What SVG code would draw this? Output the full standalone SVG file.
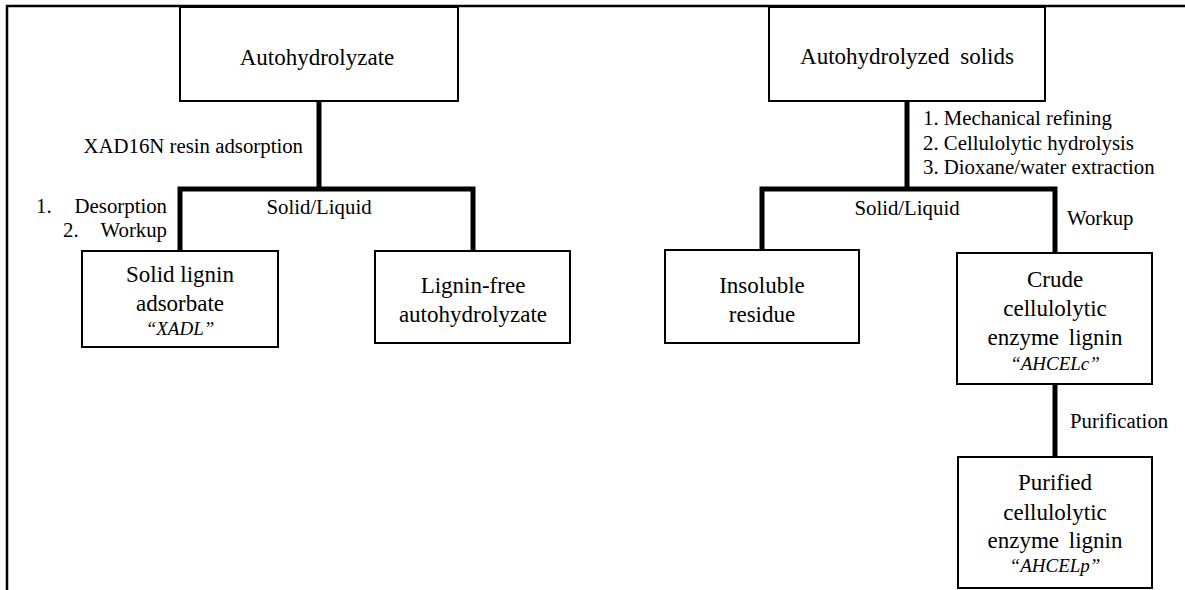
<svg xmlns="http://www.w3.org/2000/svg" width="1185" height="590" viewBox="0 0 1185 590" font-family="'Liberation Serif', 'Times New Roman', 'DejaVu Serif', serif">
<style>
.box{fill:#fff;stroke:#000;stroke-width:2}
.t{font-family:'Liberation Serif','Times New Roman','DejaVu Serif',serif;fill:#000}
.n{font-size:23px;text-anchor:middle}
.i{font-size:19px;font-style:italic;text-anchor:middle}
.l{font-size:20.8px}
.c{fill:none;stroke:#000;stroke-width:5;stroke-linejoin:miter}
</style>
<rect width="1185" height="590" fill="#fff"/>
<path d="M7,590 V6 H1185" fill="none" stroke="#000" stroke-width="2.5"/>
<g id="connectors">
<path class="c" d="M319,101 V189"/>
<path class="c" d="M180,251 V189 H473 V251"/>
<path class="c" d="M907,101 V189"/>
<path class="c" d="M762,250 V189 H1055 V253"/>
<path class="c" d="M1055,384 V457"/>
</g>
<g id="labels" class="t l">
<text x="303" y="153" text-anchor="end">XAD16N resin adsorption</text>
<text x="36" y="213">1.</text>
<text x="167" y="213" text-anchor="end">Desorption</text>
<text x="63" y="237">2.</text>
<text x="167" y="237" text-anchor="end">Workup</text>
<text x="319" y="214" text-anchor="middle">Solid/Liquid</text>
<text x="923" y="125">1. Mechanical refining</text>
<text x="923" y="150">2. Cellulolytic hydrolysis</text>
<text x="923" y="174">3. Dioxane/water extraction</text>
<text x="907" y="215" text-anchor="middle">Solid/Liquid</text>
<text x="1067" y="225">Workup</text>
<text x="1070" y="428">Purification</text>
</g>
<g id="autohydrolyzate">
<rect class="box" x="180" y="7" width="278" height="94"/>
<text class="t n" x="317" y="65">Autohydrolyzate</text>
</g>
<g id="solid-lignin">
<rect class="box" x="82" y="251" width="196" height="96"/>
<text class="t n" x="180" y="282">Solid lignin</text>
<text class="t n" x="180" y="311">adsorbate</text>
<text class="t i" x="180" y="335">“XADL”</text>
</g>
<g id="lignin-free">
<rect class="box" x="375" y="251" width="195" height="92"/>
<text class="t n" x="473" y="293">Lignin-free</text>
<text class="t n" x="473" y="322">autohydrolyzate</text>
</g>
<g id="autohydrolyzed-solids">
<rect class="box" x="769" y="7" width="276" height="94"/>
<text class="t n" x="907" y="64" word-spacing="5">Autohydrolyzed solids</text>
</g>
<g id="insoluble">
<rect class="box" x="665" y="250" width="194" height="93"/>
<text class="t n" x="762" y="293">Insoluble</text>
<text class="t n" x="762" y="322">residue</text>
</g>
<g id="crude">
<rect class="box" x="957" y="253" width="195" height="131"/>
<text class="t n" x="1055" y="287">Crude</text>
<text class="t n" x="1055" y="316">cellulolytic</text>
<text class="t n" x="1055" y="345" word-spacing="4">enzyme lignin</text>
<text class="t i" x="1055" y="370">“AHCELc”</text>
</g>
<g id="purified">
<rect class="box" x="958" y="457" width="194" height="131"/>
<text class="t n" x="1055" y="490">Purified</text>
<text class="t n" x="1055" y="520">cellulolytic</text>
<text class="t n" x="1055" y="548" word-spacing="4">enzyme lignin</text>
<text class="t i" x="1055" y="572">“AHCELp”</text>
</g>
</svg>
